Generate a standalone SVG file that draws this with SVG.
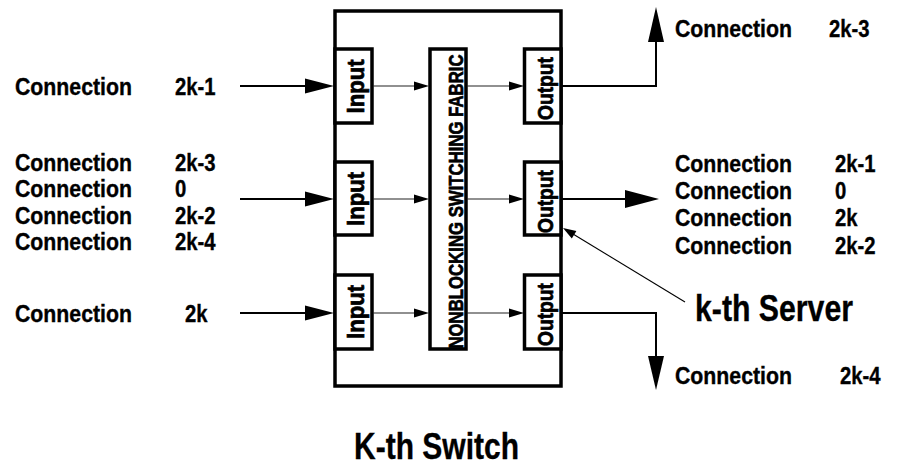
<svg xmlns="http://www.w3.org/2000/svg" width="899" height="467" viewBox="0 0 899 467">
<style>
.box{fill:#fff;stroke:#000;stroke-width:3.5}
.t{font-family:"Liberation Sans",Arial,sans-serif;font-weight:bold;fill:#000;stroke:#000;stroke-width:0.35}
.r{stroke-width:0.7}
.lab{font-size:23px}
.ext{stroke:#000;stroke-width:2;fill:none}
.int{stroke:#222;stroke-width:1.2;fill:none}
.thin{stroke:#000;stroke-width:1.1;fill:none}
.hd{fill:#000;stroke:none}
</style>
<rect width="899" height="467" fill="#fff"/>
<g id="switch">
<rect class="box" x="335" y="11" width="226" height="375"/>
<text class="t" x="354" y="459" font-size="37" textLength="165" lengthAdjust="spacingAndGlyphs">K-th Switch</text>
</g>
<g id="input1"><rect class="box" x="335" y="49" width="37" height="74"/><text class="t r" transform="translate(364,86.5) rotate(-90)" text-anchor="middle" font-size="23" textLength="54" lengthAdjust="spacingAndGlyphs">Input</text></g>
<g id="input2"><rect class="box" x="335" y="162" width="37" height="73"/><text class="t r" transform="translate(364,199) rotate(-90)" text-anchor="middle" font-size="23" textLength="54" lengthAdjust="spacingAndGlyphs">Input</text></g>
<g id="input3"><rect class="box" x="335" y="275" width="37" height="74"/><text class="t r" transform="translate(364,312) rotate(-90)" text-anchor="middle" font-size="23" textLength="54" lengthAdjust="spacingAndGlyphs">Input</text></g>
<g id="fabric"><rect class="box" x="430" y="49" width="36" height="300"/><text class="t r" transform="translate(462.5,201.5) rotate(-90)" text-anchor="middle" font-size="21" textLength="294" lengthAdjust="spacingAndGlyphs">NONBLOCKING SWITCHING FABRIC</text></g>
<g id="output1"><rect class="box" x="524.5" y="49" width="36.5" height="74"/><text class="t r" transform="translate(553,88.5) rotate(-90)" text-anchor="middle" font-size="22" textLength="63" lengthAdjust="spacingAndGlyphs">Output</text></g>
<g id="output2"><rect class="box" x="524.5" y="162" width="36.5" height="73"/><text class="t r" transform="translate(553,201.5) rotate(-90)" text-anchor="middle" font-size="22" textLength="63" lengthAdjust="spacingAndGlyphs">Output</text></g>
<g id="output3"><rect class="box" x="524.5" y="275" width="36.5" height="74"/><text class="t r" transform="translate(553,314.5) rotate(-90)" text-anchor="middle" font-size="22" textLength="63" lengthAdjust="spacingAndGlyphs">Output</text></g>
<g id="connectors">
<line class="ext" x1="240" y1="86" x2="306" y2="86"/><polygon class="hd" points="305,78.5 334,86 305,93.5"/>
<line class="ext" x1="240" y1="199" x2="306" y2="199"/><polygon class="hd" points="305,191.5 334,199 305,206.5"/>
<line class="ext" x1="240" y1="313" x2="306" y2="313"/><polygon class="hd" points="305,305.5 334,313 305,320.5"/>
<line class="int" x1="373" y1="86" x2="415" y2="86"/><polygon class="hd" points="414,81.5 429,86 414,90.5"/>
<line class="int" x1="373" y1="199" x2="415" y2="199"/><polygon class="hd" points="414,194.5 429,199 414,203.5"/>
<line class="int" x1="373" y1="313" x2="415" y2="313"/><polygon class="hd" points="414,308.5 429,313 414,317.5"/>
<line class="int" x1="467" y1="86" x2="510" y2="86"/><polygon class="hd" points="509,81.5 524,86 509,90.5"/>
<line class="int" x1="467" y1="199" x2="510" y2="199"/><polygon class="hd" points="509,194.5 524,199 509,203.5"/>
<line class="int" x1="467" y1="313" x2="510" y2="313"/><polygon class="hd" points="509,308.5 524,313 509,317.5"/>
<polyline class="ext" points="562,86 656,86 656,40"/><polygon class="hd" points="648,42 656,7 664,42"/>
<line class="ext" x1="562" y1="199" x2="627" y2="199"/><polygon class="hd" points="625,190 659,199 625,208"/>
<polyline class="ext" points="562,313 656,313 656,358"/><polygon class="hd" points="648,356 656,390 664,356"/>
<line class="thin" x1="685" y1="302" x2="573" y2="234"/><polygon class="hd" points="563,228 576.4,230.9 571.8,238.6"/>
</g>
<g id="labels" class="t lab">
<text x="15" y="95" textLength="117" lengthAdjust="spacingAndGlyphs">Connection</text><text x="175" y="95" textLength="40.5" lengthAdjust="spacingAndGlyphs">2k-1</text>
<text x="15" y="171" textLength="117" lengthAdjust="spacingAndGlyphs">Connection</text><text x="175" y="171" textLength="40.5" lengthAdjust="spacingAndGlyphs">2k-3</text>
<text x="15" y="197" textLength="117" lengthAdjust="spacingAndGlyphs">Connection</text><text x="175" y="197" textLength="11.3" lengthAdjust="spacingAndGlyphs">0</text>
<text x="15" y="224" textLength="117" lengthAdjust="spacingAndGlyphs">Connection</text><text x="175" y="224" textLength="40.5" lengthAdjust="spacingAndGlyphs">2k-2</text>
<text x="15" y="250" textLength="117" lengthAdjust="spacingAndGlyphs">Connection</text><text x="175" y="250" textLength="40.5" lengthAdjust="spacingAndGlyphs">2k-4</text>
<text x="15" y="322" textLength="117" lengthAdjust="spacingAndGlyphs">Connection</text><text x="185" y="322" textLength="22.5" lengthAdjust="spacingAndGlyphs">2k</text>
<text x="675" y="37" textLength="117" lengthAdjust="spacingAndGlyphs">Connection</text><text x="829" y="37" textLength="40.5" lengthAdjust="spacingAndGlyphs">2k-3</text>
<text x="675" y="172" textLength="117" lengthAdjust="spacingAndGlyphs">Connection</text><text x="835" y="172" textLength="40.5" lengthAdjust="spacingAndGlyphs">2k-1</text>
<text x="675" y="199" textLength="117" lengthAdjust="spacingAndGlyphs">Connection</text><text x="835" y="199" textLength="11.3" lengthAdjust="spacingAndGlyphs">0</text>
<text x="675" y="226" textLength="117" lengthAdjust="spacingAndGlyphs">Connection</text><text x="835" y="226" textLength="22.5" lengthAdjust="spacingAndGlyphs">2k</text>
<text x="675" y="254" textLength="117" lengthAdjust="spacingAndGlyphs">Connection</text><text x="835" y="254" textLength="40.5" lengthAdjust="spacingAndGlyphs">2k-2</text>
<text x="675" y="384" textLength="117" lengthAdjust="spacingAndGlyphs">Connection</text><text x="840" y="384" textLength="40.5" lengthAdjust="spacingAndGlyphs">2k-4</text>
<text x="695" y="321" font-size="36" textLength="158" lengthAdjust="spacingAndGlyphs">k-th Server</text>
</g>
</svg>
